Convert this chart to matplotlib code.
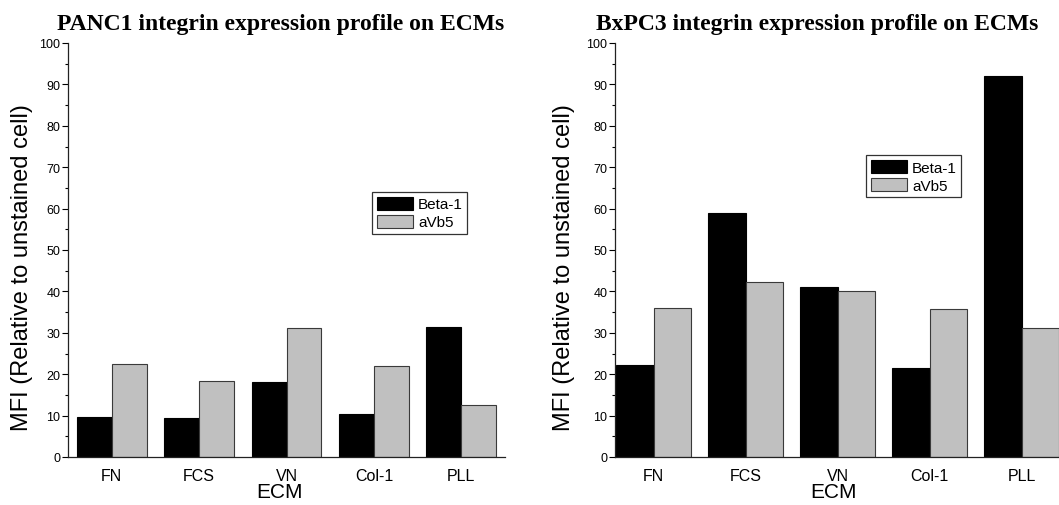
import numpy as np
import matplotlib
matplotlib.use('Agg')
import matplotlib.pyplot as plt
from matplotlib.ticker import MultipleLocator

# data
ecm = ['FN', 'FCS', 'VN', 'Col-1', 'PLL']
panc1_beta1 = [9.7, 9.4, 18.0, 10.4, 31.4]
panc1_avb5 = [22.5, 18.3, 31.2, 21.9, 12.5]
bxpc3_beta1 = [22.2, 58.9, 41.1, 21.6, 92.0]
bxpc3_avb5 = [36.1, 42.2, 40.0, 35.7, 31.2]

SANS = ['Liberation Sans', 'DejaVu Sans']
SERIF = ['Liberation Serif', 'DejaVu Serif']

plt.rcParams['font.family'] = SANS


def draw_panel(ax, beta1, avb5, title, xlim, w, title_x, leg_xy, ylab_x, xlab_x):
    x = np.arange(1, len(ecm) + 1)
    ax.bar(x - w / 2, beta1, w, color='black', edgecolor='black', linewidth=0.8, label='Beta-1')
    ax.bar(x + w / 2, avb5, w, color='#c0c0c0', edgecolor='#3a3a3a', linewidth=0.8, label='aVb5')

    ax.set_xlim(*xlim)
    ax.set_ylim(0, 100)
    ax.yaxis.set_major_locator(MultipleLocator(10))
    ax.yaxis.set_minor_locator(MultipleLocator(5))
    ax.tick_params(axis='y', which='major', length=4, width=0.8, labelsize=9, pad=1.5)
    ax.tick_params(axis='y', which='minor', length=2, width=0.8)
    ax.set_xticks(x)
    ax.set_xticklabels(ecm, fontsize=11.5)
    ax.tick_params(axis='x', length=0, pad=8)

    for s in ['top', 'right']:
        ax.spines[s].set_visible(False)
    for s in ['left', 'bottom']:
        ax.spines[s].set_linewidth(0.9)
        ax.spines[s].set_color('#222222')

    ax.set_ylabel('MFI (Relative to unstained cell)', fontsize=17)
    ax.yaxis.set_label_coords(ylab_x, 0.461)
    ax.set_xlabel('ECM', fontsize=15)
    ax.xaxis.set_label_coords(xlab_x, -0.06)

    ax.set_title(title, family=SERIF, fontweight='bold', fontsize=17, x=title_x, pad=10)

    leg = ax.legend(loc='upper left', bbox_to_anchor=leg_xy, frameon=True, fancybox=False,
                    prop={'size': 11}, handlelength=2.4, handleheight=0.95,
                    handletextpad=0.3, labelspacing=0.2, borderpad=0.3, borderaxespad=0)
    leg.get_frame().set_edgecolor('black')
    leg.get_frame().set_linewidth(0.9)


fig = plt.figure(figsize=(10.59, 5.06), dpi=100)
ax1 = fig.add_axes([68 / 1059, 48 / 506, 437 / 1059, 414 / 506])
ax2 = fig.add_axes([615 / 1059, 48 / 506, 460 / 1059, 414 / 506])

draw_panel(ax1, panc1_beta1, panc1_avb5, 'PANC1 integrin expression profile on ECMs',
           (0.5, 5.5), 0.4, 0.487, (0.696, 0.640), -0.080, 0.485)
draw_panel(ax2, bxpc3_beta1, bxpc3_avb5, 'BxPC3 integrin expression profile on ECMs',
           (0.58, 5.58), 0.41, 0.439, (0.546, 0.729), -0.087, 0.474)

fig.savefig('out.png', dpi=100)
